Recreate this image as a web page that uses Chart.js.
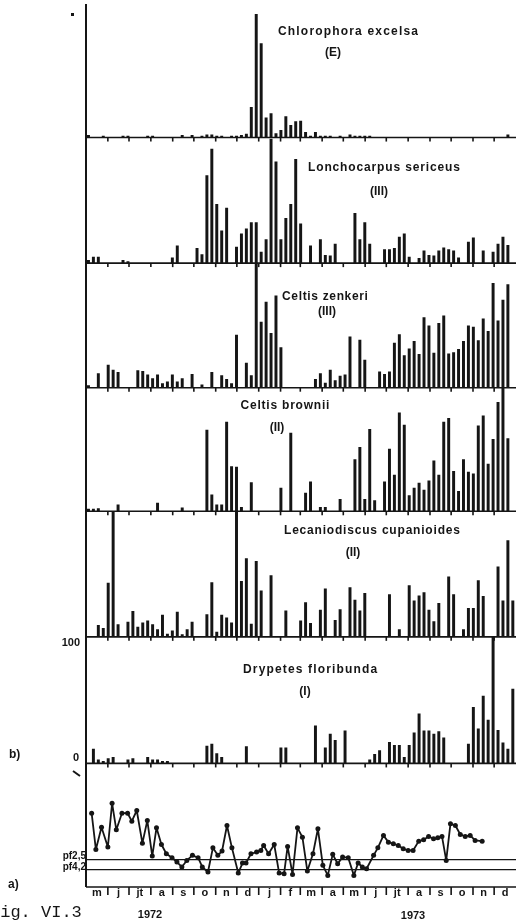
<!DOCTYPE html>
<html>
<head>
<meta charset="utf-8">
<title>Fig. VI.3</title>
<script src="https://cdn.jsdelivr.net/npm/chart.js@4.4.0/dist/chart.umd.min.js"></script>
<style>
  html, body { margin: 0; padding: 0; background: #fff; }
  #wrap { position: relative; width: 521px; height: 921px; }
  canvas { display: block; }
</style>
</head>
<body>
<div id="wrap"><canvas id="grafico"></canvas></div>
<script>
// Meses de mai 1972 a dez 1973
const monthLabels = ["m", "j", "jt", "a", "s", "o", "n", "d", "j", "f", "m", "a", "m", "j", "jt", "a", "s", "o", "n", "d"];
const monthDays = [31, 30, 31, 31, 30, 31, 30, 31, 31, 28, 31, 30, 31, 30, 31, 31, 30, 31, 30, 31];
const yearLabels = ["1972", "1973"];

// Valores semanais (uma coluna por semana desde 1 mai 1972), escala 0-100
const chlorophora = [
  2, 0, 0, 1.5, 0, 0, 0, 1.5, 1.5, 0,
  0, 0, 1.5, 1.5, 0, 0, 0, 0, 0, 2,
  0, 2, 0, 1.5, 2.5, 2.5, 1.5, 1.5, 0, 1.5,
  1.5, 2, 3, 24.5, 99, 75.5, 16, 19.5, 3.5, 6,
  17, 10, 13, 13.5, 4.5, 1.5, 4.5, 1.5, 1.5, 1.5,
  0, 1.5, 0, 2.5, 1.5, 1.5, 1.5, 1.5, 0, 0,
  0, 0, 0, 0, 0, 0, 0, 0, 0, 0,
  0, 0, 0, 0, 0, 0, 0, 0, 0, 0,
  0, 0, 0, 0, 0, 2.5, 0
];
const lonchocarpus = [
  2.5, 5, 5, 0, 0, 0, 0, 2.5, 1.5, 0,
  0, 0, 0, 0, 0, 0, 0, 4.5, 14, 0,
  0, 0, 12, 7, 70, 91, 47, 26, 44, 0,
  13, 23.5, 27.5, 32.5, 32.5, 9, 19, 99, 81, 19,
  36, 47, 83, 31.5, 0, 14, 0, 19, 6.5, 6,
  15.5, 0, 0, 0, 40, 19, 32.5, 15.5, 0, 0,
  11, 11, 12, 21, 23.5, 5, 0, 4, 10, 6.5,
  6, 10, 12.5, 11, 10, 4.5, 0, 17, 20.5, 0,
  10, 0, 9, 15.5, 21, 14.5, 0
];
const celtisZenkeri = [
  2, 0, 11.5, 0, 18.5, 14.5, 12.5, 0, 0, 0,
  14, 13.5, 10.5, 7.5, 10.5, 3.5, 5, 10.5, 5, 7.5,
  0, 11, 0, 2.5, 0, 12.5, 0, 10, 7, 3.5,
  42.5, 0, 20, 10, 100, 53, 69, 44, 74, 32.5,
  0, 0, 0, 0, 0, 0, 7, 11.5, 4, 14.5,
  6, 9.5, 10.5, 41, 0, 38.5, 22.5, 0, 0, 13,
  11, 13, 36, 43, 26, 31.5, 37.5, 27, 56.5, 50,
  28, 52, 58, 27.5, 28.5, 31, 37.5, 50, 49, 38,
  55.5, 45.5, 84, 54, 70.5, 83, 0
];
const celtisBrownii = [
  2, 2, 2.5, 0, 0, 0, 5.5, 0, 0, 0,
  0, 0, 0, 0, 7, 0, 0, 0, 0, 3,
  0, 0, 0, 0, 66, 13.5, 5.5, 5.5, 72.5, 36.5,
  36, 3.5, 0, 23.5, 0, 0, 0, 0, 0, 19,
  0, 63.5, 0, 0, 15, 24, 0, 3.5, 3.5, 0,
  0, 10, 0, 0, 42, 52, 10, 66.5, 9, 0,
  24, 50.5, 29.5, 80, 70, 13, 19, 23, 17.5, 25,
  41, 29.5, 72.5, 75.5, 32.5, 16.5, 42, 32, 30.5, 69.5,
  77.5, 38.5, 58.5, 88.5, 100, 59, 0
];
const lecaniodiscus = [
  0, 0, 9.5, 7, 43, 100, 10, 0, 12, 20.5,
  8, 11.5, 13, 10, 6, 17.5, 2.5, 5, 20, 2,
  6, 12, 0, 0, 18, 43.5, 4, 17.5, 15.5, 11.5,
  100, 44.5, 62.5, 10.5, 60.5, 37, 0, 49, 0, 0,
  21, 0, 0, 13, 27.5, 11, 0, 21.5, 38.5, 0,
  13.5, 22, 0, 39.5, 29.5, 21, 35, 0, 0, 0,
  0, 34, 0, 6, 0, 41, 29, 33, 35.5, 21.5,
  12.5, 27, 0, 48, 34, 0, 6, 23, 23, 45,
  32.5, 0, 0, 56, 29, 77, 29
];
const drypetes = [
  0, 11.5, 3, 2, 4, 5, 0, 0, 3, 4,
  0, 0, 5, 3, 3, 2, 2, 0, 0, 0,
  0, 0, 0, 0, 14, 15.5, 8, 5, 0, 0,
  0, 0, 13.5, 0, 0, 0, 0, 0, 0, 12.5,
  12.5, 0, 0, 0, 0, 0, 30, 0, 12.5, 23.5,
  18.5, 0, 26, 0, 0, 0, 0, 3, 7.5, 10.5,
  0, 17, 14.5, 14.5, 5, 14.5, 24.5, 39.5, 26, 26,
  23.5, 25.5, 20.5, 0, 0, 0, 0, 15.5, 44.5, 27.5,
  53.5, 34.5, 100, 26.5, 16.5, 11.5, 59
];

// a) humidade do solo: dia (desde 1 mai 1972) e valor
const soilDays = [
  8, 14, 22, 31, 37, 43, 51, 59, 65, 72,
  80, 87, 94, 100, 107, 114, 122, 129, 136, 143,
  151, 159, 165, 173, 180, 187, 193, 200, 207, 216,
  222, 227, 234, 242, 248, 252, 259, 267, 274, 281,
  286, 293, 300, 307, 314, 322, 329, 336, 343, 350,
  357, 364, 372, 380, 386, 392, 398, 408, 414, 422,
  429, 436, 443, 450, 457, 464, 472, 479, 486, 493,
  499, 505, 511, 517, 524, 531, 538, 545, 552, 562
];
const soilValues = [
  59.7, 30.4, 48.4, 32.3, 67.8, 46.3, 59.7, 59.7, 53.3, 61.9,
  35.5, 53.8, 25.0, 47.9, 34.4, 26.9, 23.7, 20.2, 16.2, 21.5,
  25.6, 23.7, 16.2, 12.1, 31.7, 25.6, 29.1, 49.8, 31.7, 11.3,
  19.4, 19.4, 26.9, 28.3, 29.6, 33.6, 26.9, 34.4, 11.3, 10.8,
  32.8, 10.2, 47.9, 40.3, 12.9, 26.9, 47.1, 17.5, 9.4, 26.4,
  18.8, 24.2, 23.7, 9.4, 19.4, 16.2, 14.8, 25.6, 31.7, 41.7,
  36.3, 35.0, 33.6, 30.9, 29.6, 29.6, 37.1, 38.2, 40.9, 39.0,
  39.8, 40.9, 21.5, 51.1, 49.8, 42.5, 40.9, 41.7, 37.7, 37.1
];
const pf25 = 22.2;
const pf42 = 14.1;

// Painéis de cima para baixo
const panels = [
  { id: "y1", title: "Chlorophora excelsa", group: "(E)", values: chlorophora },
  { id: "y2", title: "Lonchocarpus sericeus", group: "(III)", values: lonchocarpus },
  { id: "y3", title: "Celtis zenkeri", group: "(III)", values: celtisZenkeri },
  { id: "y4", title: "Celtis brownii", group: "(II)", values: celtisBrownii },
  { id: "y5", title: "Lecaniodiscus cupanioides", group: "(II)", values: lecaniodiscus },
  { id: "y6", title: "Drypetes floribunda", group: "(I)", values: drypetes }
];

// Posição dos títulos (centro x, y, largura)
const titlePos = [
  [348, 32, 140, 333, 53],
  [384, 168, 152, 379, 192],
  [325, 297, 86, 327, 312],
  [285, 406, 89, 277, 428],
  [372, 531, 176, 353, 553],
  [310, 670, 134, 305, 692]
];
const panelHeights = [134, 126, 125, 124, 126, 127, 124];

const monthEdges = [];
monthDays.reduce((acc, d) => { monthEdges.push(acc + d); return acc + d; }, 0);
const totalDays = monthEdges[monthEdges.length - 1];
const weekDay = i => i * 7 + 3.5;

const INK = "#151515";
const BOLD = '"Liberation Sans", Arial, sans-serif';

function fitText(ctx, text, x, y, width) {
  ctx.letterSpacing = "0px";
  const w = ctx.measureText(text).width;
  if (width && text.length > 1) {
    ctx.letterSpacing = ((width - w) / (text.length - 1)).toFixed(2) + "px";
  }
  ctx.textAlign = "left";
  ctx.fillText(text, x - (width || w) / 2, y);
  ctx.letterSpacing = "0px";
}

const decor = {
  id: "decor",
  afterDraw(chart) {
    const { ctx, chartArea: a, scales } = chart;
    const sx = scales.x;
    ctx.save();
    ctx.strokeStyle = INK;
    ctx.fillStyle = INK;

    // eixo vertical
    ctx.lineWidth = 2;
    ctx.beginPath();
    ctx.moveTo(a.left, a.top);
    ctx.lineTo(a.left, a.bottom);
    ctx.stroke();

    // linhas de base e marcas dos meses
    ctx.lineWidth = 1.6;
    ["y1", "y2", "y3", "y4", "y5", "y6", "y7"].forEach(id => {
      const yb = scales[id].getPixelForValue(0);
      ctx.beginPath();
      ctx.moveTo(a.left, yb);
      ctx.lineTo(a.right, yb);
      ctx.stroke();
      const len = id === "y7" ? 8 : 4;
      monthEdges.slice(0, -1).forEach(d => {
        const px = sx.getPixelForValue(d);
        ctx.beginPath();
        ctx.moveTo(px, yb);
        ctx.lineTo(px, yb + len);
        ctx.stroke();
      });
    });

    // títulos
    ctx.textBaseline = "middle";
    ctx.font = "bold 12px " + BOLD;
    panels.forEach((p, k) => {
      const t = titlePos[k];
      fitText(ctx, p.title, t[0], t[1], t[2]);
      fitText(ctx, p.group, t[3], t[4]);
    });

    // meses
    ctx.font = "bold 11px " + BOLD;
    ctx.textAlign = "center";
    let start = 0;
    monthDays.forEach((d, k) => {
      ctx.fillText(monthLabels[k], sx.getPixelForValue(start + d / 2), a.bottom + 6);
      start += d;
    });
    ctx.fillText(yearLabels[0], 150, 915);
    ctx.fillText(yearLabels[1], 413, 916);

    // rótulos à esquerda
    ctx.textAlign = "right";
    ctx.fillText("100", 80, scales.y6.getPixelForValue(100) + 6);
    ctx.fillText("0", 79, scales.y6.getPixelForValue(0) - 5);
    ctx.font = "bold 10px " + BOLD;
    ctx.fillText("pf2,5", 86, scales.y7.getPixelForValue(pf25) - 3);
    ctx.fillText("pf4,2", 86, scales.y7.getPixelForValue(pf42) - 2);
    ctx.textAlign = "left";
    ctx.font = "bold 12px " + BOLD;
    ctx.fillText("b)", 9, 755);
    ctx.fillText("a)", 8, 885);
    ctx.font = '17px "Liberation Mono", monospace';
    ctx.fillText("Fig. VI.3", -10, 912);

    // pequenos sinais junto ao eixo
    ctx.fillRect(71, 13, 3, 3);
    ctx.lineWidth = 2;
    ctx.beginPath();
    ctx.moveTo(73, 771);
    ctx.lineTo(80, 776);
    ctx.stroke();
    ctx.restore();
  }
};

const datasets = panels.map(p => ({
  type: "bar",
  yAxisID: p.id,
  data: p.values.map((v, i) => ({ x: weekDay(i), y: v })),
  backgroundColor: INK,
  borderWidth: 0,
  grouped: false,
  categoryPercentage: 1,
  barPercentage: 0.6,
  maxBarThickness: 3
}));

datasets.push({
  type: "line",
  yAxisID: "y7",
  data: soilDays.map((d, i) => ({ x: d, y: soilValues[i] })),
  borderColor: INK,
  borderWidth: 1.8,
  borderJoinStyle: "round",
  pointRadius: 2.5,
  pointBackgroundColor: INK,
  pointBorderWidth: 0,
  tension: 0
});
[pf25, pf42].forEach(v => {
  datasets.push({
    type: "line",
    yAxisID: "y7",
    data: [{ x: 0, y: v }, { x: totalDays, y: v }],
    borderColor: INK,
    borderWidth: 1.3,
    pointRadius: 0
  });
});

const scales = {
  x: { type: "linear", min: 0, max: totalDays, offset: false, display: false, grid: { offset: false } }
};
["y1", "y2", "y3", "y4", "y5", "y6", "y7"].forEach((id, k) => {
  scales[id] = {
    type: "linear",
    position: "left",
    stack: "paineis",
    stackWeight: panelHeights[k],
    weight: 7 - k,
    min: 0,
    max: k === 0 ? 107 : 100,
    display: false
  };
});

new Chart(document.getElementById("grafico"), {
  type: "bar",
  data: { datasets },
  options: {
    responsive: true,
    maintainAspectRatio: false,
    animation: false,
    layout: { padding: { left: 86, right: 5, top: 1, bottom: 34 } },
    plugins: { legend: { display: false }, tooltip: { enabled: false } },
    scales
  },
  plugins: [decor]
});
</script>
</body>
</html>
